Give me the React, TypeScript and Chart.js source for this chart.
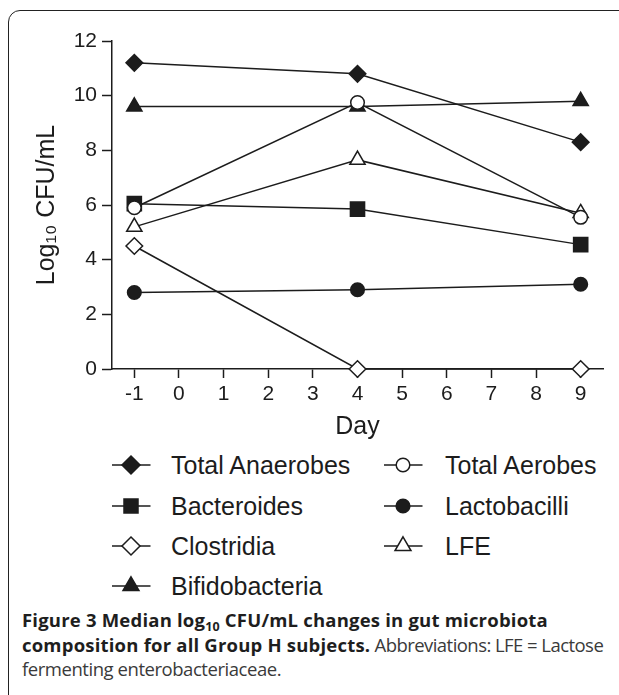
import React, { useEffect, useRef } from "react";
import { Chart, registerables } from "chart.js";

Chart.register(...registerables);

// ---- data ----
const days = [-1, 4, 9];
const xTickValues = [-1, 0, 1, 2, 3, 4, 5, 6, 7, 8, 9];
const yTickValues = [0, 2, 4, 6, 8, 10, 12];
const totalAnaerobes = [11.2, 10.8, 8.3];
const totalAerobes = [5.9, 9.75, 5.55];
const bacteroides = [6.05, 5.85, 4.55];
const lactobacilli = [2.8, 2.9, 3.1];
const clostridia = [4.5, 0, 0];
const lfe = [5.2, 7.65, 5.7];
const bifidobacteria = [9.6, 9.6, 9.8];
const seriesNames = [
  "Total Anaerobes",
  "Total Aerobes",
  "Bacteroides",
  "Lactobacilli",
  "Clostridia",
  "LFE",
  "Bifidobacteria",
];
const xTitle = "Day";
const yTitle = "Log\u2081\u2080 CFU/mL";

const INK = "#1c1c1c";
const FONT = "'Liberation Sans', Arial, Helvetica, sans-serif";

type Shape = "diamond" | "circle" | "square" | "triangle";
const seriesValues = [totalAnaerobes, totalAerobes, bacteroides, lactobacilli, clostridia, lfe, bifidobacteria];
const seriesShapes: Shape[] = ["diamond", "circle", "square", "circle", "diamond", "triangle", "triangle"];
const seriesFilled = [true, false, true, true, false, false, true];

const chartStyle: Record<Shape, string> = {
  diamond: "rectRot",
  circle: "circle",
  square: "rect",
  triangle: "triangle",
};
const chartRadius: Record<Shape, number> = { diamond: 8.3, circle: 6.8, square: 10, triangle: 8.8 };

function Marker({ shape, filled, r }: { shape: Shape; filled: boolean; r: number }) {
  const w = 40;
  const h = 26;
  const cx = 19;
  const cy = 13;
  const fill = filled ? INK : "#fff";
  let m: React.ReactNode = null;
  if (shape === "diamond") {
    m = <polygon points={`${cx},${cy - r} ${cx + r},${cy} ${cx},${cy + r} ${cx - r},${cy}`} fill={fill} stroke={INK} strokeWidth={1.5} />;
  } else if (shape === "circle") {
    m = <circle cx={cx} cy={cy} r={r} fill={fill} stroke={INK} strokeWidth={1.5} />;
  } else if (shape === "square") {
    m = <rect x={cx - r} y={cy - r} width={2 * r} height={2 * r} fill={fill} stroke={INK} strokeWidth={1.5} />;
  } else {
    const s = r * 0.866;
    m = <polygon points={`${cx},${cy - r} ${cx + s},${cy + r / 2} ${cx - s},${cy + r / 2}`} fill={fill} stroke={INK} strokeWidth={1.5} />;
  }
  return (
    <svg width={w} height={h} style={{ display: "block" }}>
      <line x1={0} y1={cy} x2={38.5} y2={cy} stroke={INK} strokeWidth={1.5} />
      {m}
    </svg>
  );
}

const legendRadius: Record<Shape, number> = { diamond: 9, circle: 6.8, square: 7, triangle: 9.2 };

export default function App() {
  const ref = useRef<HTMLCanvasElement | null>(null);

  useEffect(() => {
    if (!ref.current) return;
    const datasets = seriesNames.map((name, k) => {
      const shape = seriesShapes[k];
      const fill = seriesFilled[k] ? INK : "#ffffff";
      return {
        label: name,
        data: days.map((d, i) => ({ x: d, y: seriesValues[k][i] })),
        borderColor: INK,
        borderWidth: 1.5,
        backgroundColor: fill,
        pointStyle: chartStyle[shape],
        pointRadius: chartRadius[shape],
        pointHoverRadius: chartRadius[shape],
        pointBorderWidth: 1.5,
        pointBorderColor: INK,
        pointBackgroundColor: fill,
        tension: 0,
        fill: false,
        clip: false as any,
      };
    });
    const chart = new Chart(ref.current, {
      type: "line",
      data: { datasets },
      options: {
        animation: false,
        responsive: false,
        events: [],
        layout: { padding: { left: 0, top: 41, right: 16, bottom: 0 } },
        plugins: { legend: { display: false }, tooltip: { enabled: false } },
        scales: {
          x: {
            type: "linear",
            min: -1.5,
            max: 9.5,
            afterBuildTicks: (s: any) => {
              s.ticks = xTickValues.map((v) => ({ value: v }));
            },
            afterFit: (s: any) => {
              s.height = 76;
            },
            grid: { display: true, drawOnChartArea: false, drawTicks: true, tickLength: 9, tickWidth: 1.5, tickColor: INK },
            border: { display: true, color: INK, width: 1.5 },
            ticks: { color: INK, font: { family: FONT, size: 21 }, padding: 4, maxRotation: 0, autoSkip: false },
            title: { display: true, text: xTitle, color: INK, font: { family: FONT, size: 25 }, padding: { top: 0, bottom: 3 } },
          },
          y: {
            type: "linear",
            min: 0,
            max: 12,
            afterBuildTicks: (s: any) => {
              s.ticks = yTickValues.map((v) => ({ value: v }));
            },
            afterFit: (s: any) => {
              s.width = 112;
            },
            grid: { display: true, drawOnChartArea: false, drawTicks: true, tickLength: 10, tickWidth: 1.5, tickColor: INK },
            border: { display: true, color: INK, width: 1.5 },
            ticks: { color: INK, font: { family: FONT, size: 21 }, padding: 5, autoSkip: false },
            title: { display: true, text: yTitle, color: INK, font: { family: FONT, size: 25 }, padding: { top: 32, bottom: 0 } },
          },
        },
      },
    });
    return () => chart.destroy();
  }, []);

  const legendRows = [465, 506, 546, 586];
  const colMarkerX = [112, 384];
  const colTextX = [171, 445];

  return (
    <div style={{ position: "fixed", left: 0, top: 0, width: 619, height: 695, overflow: "hidden", background: "#fff" }}>
      <div
        style={{
          position: "absolute",
          left: 8,
          top: 10,
          width: 800,
          height: 900,
          border: "1.6px solid #222",
          borderTopLeftRadius: 12,
          boxSizing: "border-box",
        }}
      />
      <canvas ref={ref} width={619} height={445} style={{ position: "absolute", left: 0, top: 0, width: 619, height: 445 }} />
      {seriesNames.map((name, k) => {
        const col = k % 2;
        const row = Math.floor(k / 2);
        const cy = legendRows[row];
        return (
          <React.Fragment key={name}>
            <div style={{ position: "absolute", left: colMarkerX[col], top: cy - 13 }}>
              <Marker shape={seriesShapes[k]} filled={seriesFilled[k]} r={legendRadius[seriesShapes[k]]} />
            </div>
            <div
              style={{
                position: "absolute",
                left: colTextX[col],
                top: cy - 15,
                fontFamily: FONT,
                fontSize: 25,
                lineHeight: "30px",
                color: INK,
                whiteSpace: "nowrap",
              }}
            >
              {name}
            </div>
          </React.Fragment>
        );
      })}
      <div
        style={{
          position: "absolute",
          left: 22,
          top: 608,
          fontFamily: "'Open Sans', 'Noto Sans', sans-serif",
          fontSize: 18.5,
          lineHeight: "24.5px",
          color: "#1e1e1e",
          whiteSpace: "nowrap",
          letterSpacing: 0.2,
        }}
      >
        <b>
          Figure 3 Median log
          <span style={{ fontSize: 12.5, position: "relative", top: 4, lineHeight: 0 }}>10</span> CFU/mL changes in gut microbiota
        </b>
        <br />
        <b>composition for all Group H subjects.</b>
        <span style={{ color: "#3a3a3a", letterSpacing: -0.55 }}> Abbreviations: LFE = Lactose</span>
        <br />
        <span style={{ color: "#3a3a3a", letterSpacing: -0.45 }}>fermenting enterobacteriaceae.</span>
      </div>
    </div>
  );
}
